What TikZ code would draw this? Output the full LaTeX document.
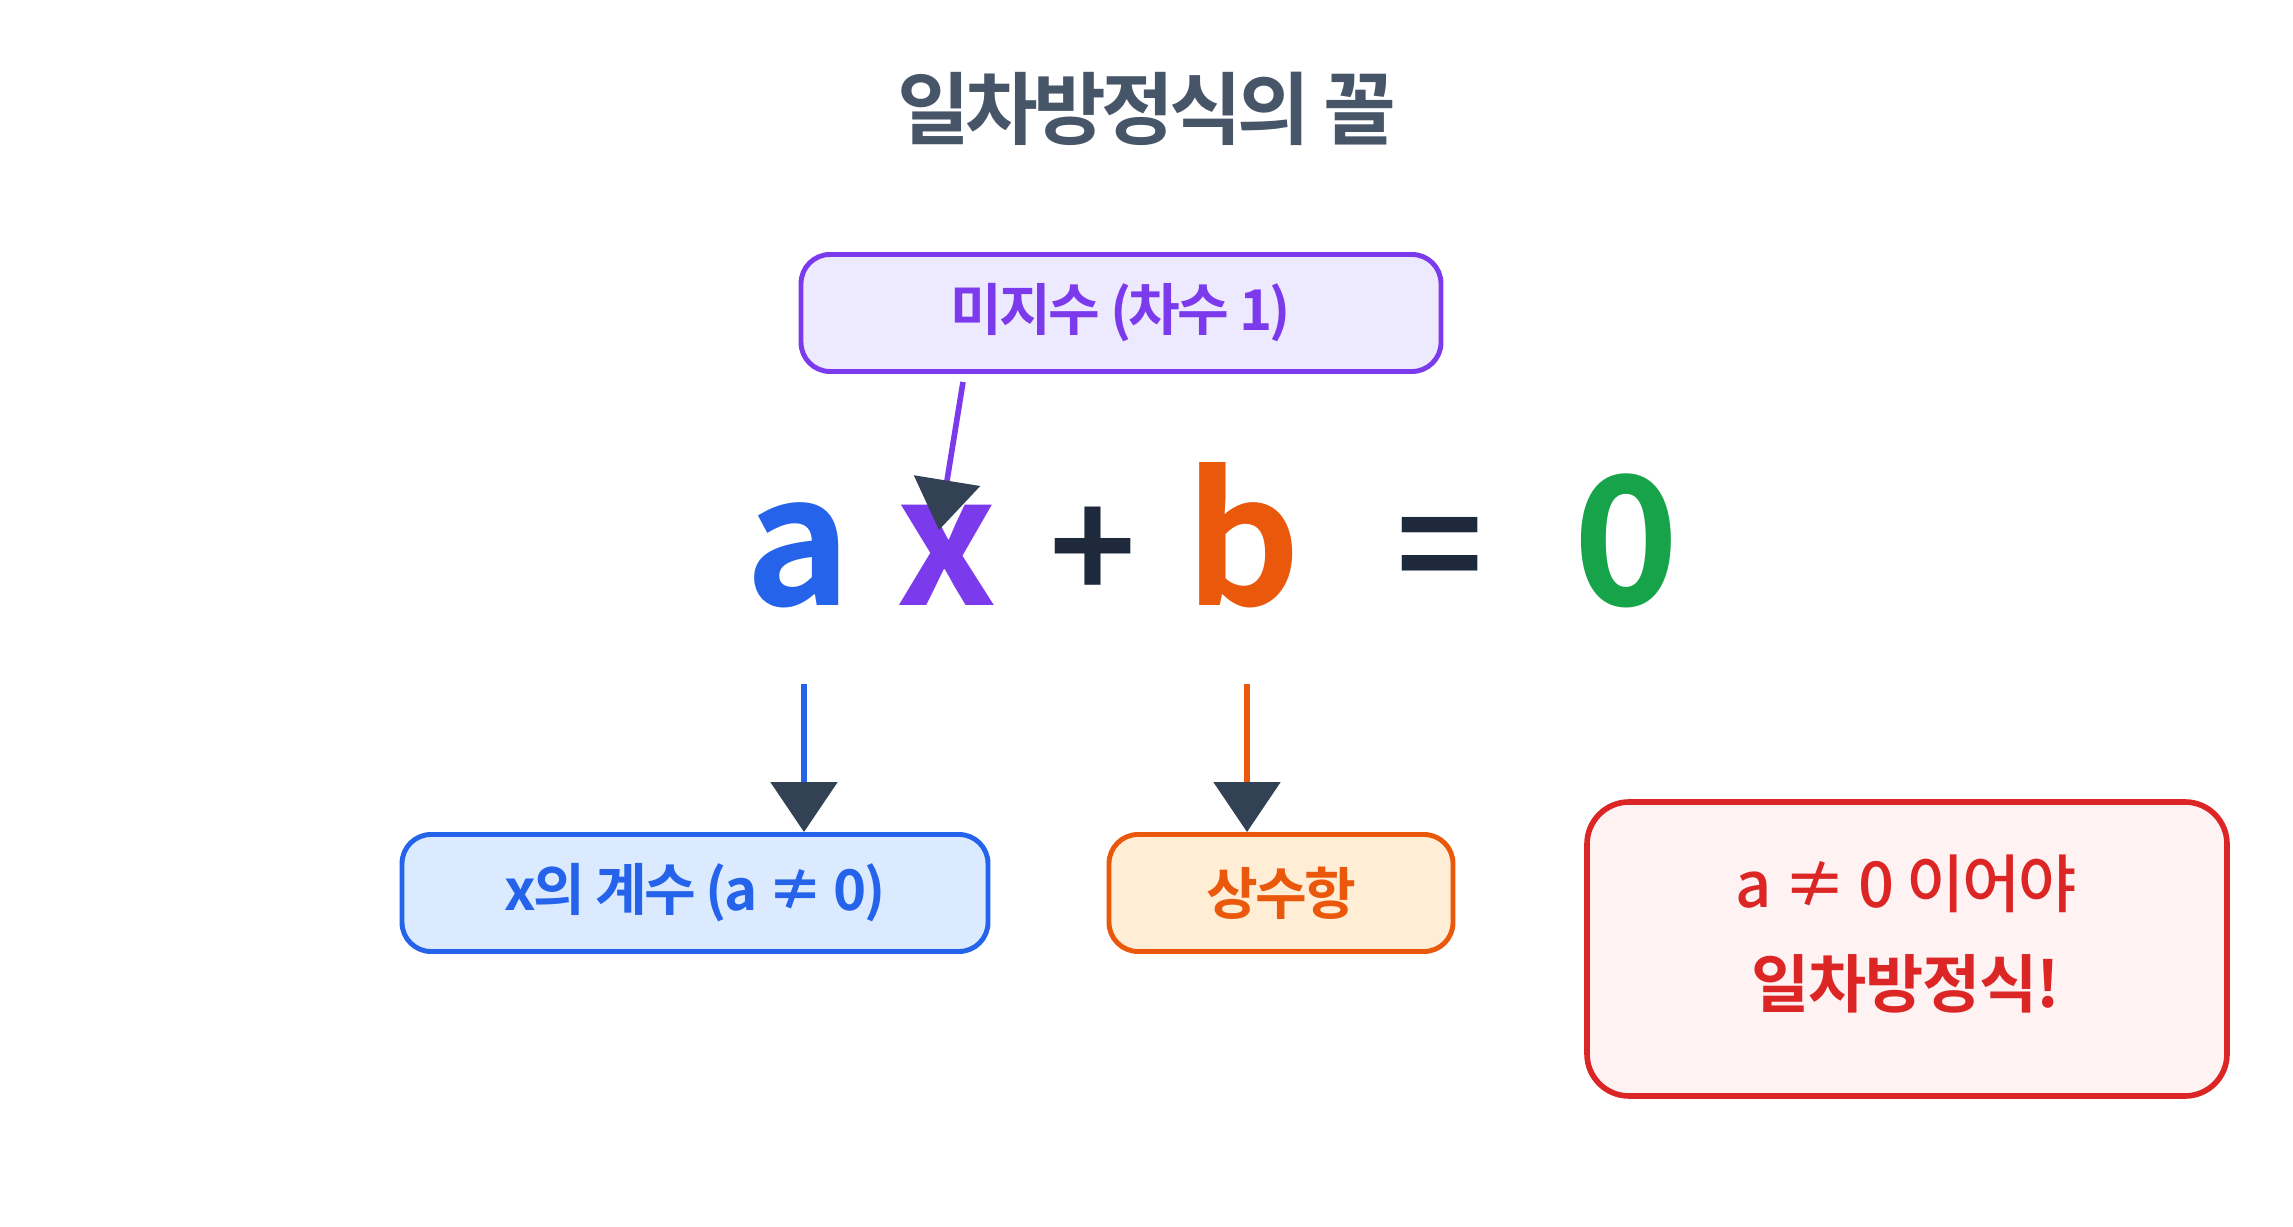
\documentclass[tikz,border=0pt]{standalone}
\usepackage{fontspec}
\setmainfont{Noto Sans CJK KR}[BoldFont={Noto Sans CJK KR Bold}]
\newfontfamily\krmedium{Noto Sans CJK KR Medium}
\usetikzlibrary{arrows.meta}
\definecolor{titlecol}{HTML}{475569}
\definecolor{ink}{HTML}{1E293B}
\definecolor{slate}{HTML}{334155}
\definecolor{unkcol}{HTML}{7C3AED}
\definecolor{unkfill}{HTML}{EDE9FE}
\definecolor{coefcol}{HTML}{2563EB}
\definecolor{coeffill}{HTML}{DBEAFE}
\definecolor{constcol}{HTML}{EA580C}
\definecolor{constfill}{HTML}{FFEDD5}
\definecolor{warncol}{HTML}{DC2626}
\definecolor{warnfill}{HTML}{FEF2F2}
\definecolor{zerocol}{HTML}{16A34A}

\begin{document}
\begin{tikzpicture}[x=0.1mm,y=-0.1mm,
		heading/.style={text=titlecol,font=\fontsize{22.5pt}{26pt}\selectfont\bfseries\addfontfeature{LetterSpace=-6}},
		box/.style={draw,rounded corners=2.9mm,line width=1.4pt,inner sep=0pt,minimum height=11.7mm,
			font=\fontsize{16pt}{18pt}\selectfont\bfseries\addfontfeature{LetterSpace=-5}},
		term/.style={anchor=base,inner sep=0pt,font=\fontsize{51pt}{54pt}\selectfont\bfseries},
		op/.style={inner sep=0pt,text=ink,font=\fontsize{42pt}{44pt}\selectfont\bfseries},
		ptr/.style={line width=1.6pt,-{Triangle[width=6.6mm,length=5mm,color=slate]}}]
	\fill[white] (0,0) rectangle (2293,1227);
	\node[heading] (title) at (1147,109) {일차방정식의 꼴};
	\node[box,draw=unkcol,fill=unkfill,text=unkcol,minimum width=64mm] (unk) at (1121,313) {미지수 (차수 1)};
	\node[term,text=coefcol] (a) at (798,606) {a};
	\node[term,text=unkcol] (x) at (947,606) {x};
	\node[op] (plus) at (1093,554) {+};
	\node[term,text=constcol] (b) at (1243,606) {b};
	\node[op] (eq) at (1440,558) {=};
	\node[term,text=zerocol] (zero) at (1626,606) {0};
	\node[box,draw=coefcol,fill=coeffill,text=coefcol,minimum width=58.6mm] (coef) at (695,893) {x의 계수 (a ≠ 0)};
	\node[box,draw=constcol,fill=constfill,text=constcol,minimum width=34.4mm] (const) at (1281,893) {상수항};
	\node[box,draw=warncol,fill=warnfill,line width=1.6pt,rounded corners=4.2mm,minimum width=64mm,minimum height=29.4mm] (warn) at (1907,949) {};
	\node[text=warncol,align=center,font=\fontsize{18pt}{28.5pt}\selectfont] (warntext) at (1906,934)
		{{\krmedium\addfontfeature{LetterSpace=-4}a ≠ 0 이어야}\\{\bfseries\addfontfeature{LetterSpace=-2}일차방정식!}};
	\coordinate (unk-out) at (963,382);
	\coordinate (x-in) at (939,530);
	\coordinate (a-out) at (804,684);
	\coordinate (b-out) at (1247,684);
	\draw[ptr,unkcol] (unk-out) -- (x-in);
	\draw[ptr,coefcol] (a-out) -- (a-out |- coef.north);
	\draw[ptr,constcol] (b-out) -- (b-out |- const.north);
\end{tikzpicture}
\end{document}
